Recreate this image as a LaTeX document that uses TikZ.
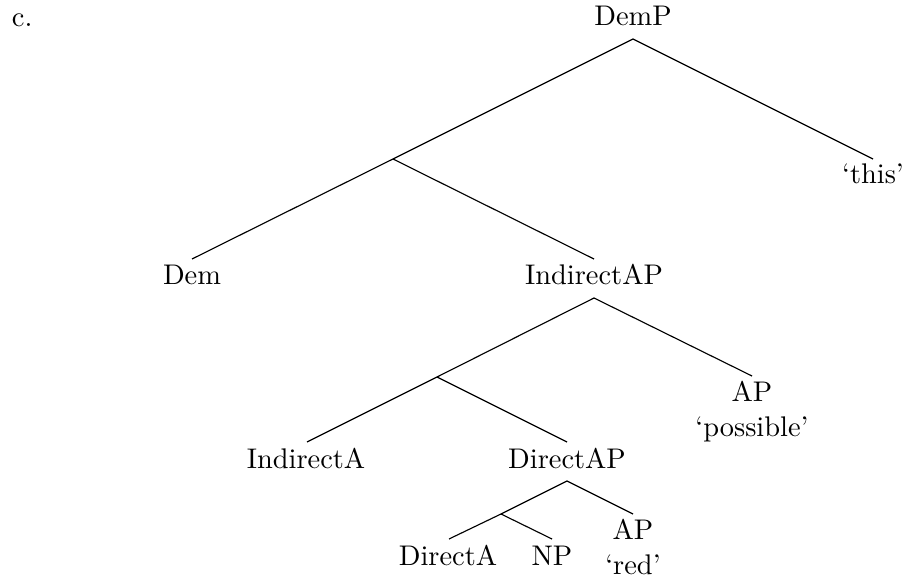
\documentclass[tikz,border=0pt]{standalone}
\begin{document}
\begin{tikzpicture}[x=0.3521pt,y=-0.3521pt,
  lbl/.style={anchor=base, inner sep=0pt, outer sep=0pt},
  branch/.style={line width=0.4pt, black}]
\useasboundingbox (0,0) rectangle (908,579);
% labels
\node[lbl, anchor=base west] (c) at (12,27) {c.};
\node[lbl] (demp) at (633,26) {DemP};
\node[lbl] (this) at (873,184) {`this'};
\node[lbl] (dem) at (192,285) {Dem};
\node[lbl] (iap) at (594,285) {IndirectAP};
\node[lbl] (ap1) at (752,402) {AP};
\node[lbl] (ap1g) at (752,436) {`possible'};
\node[lbl] (ia) at (306,468) {IndirectA};
\node[lbl] (dap) at (567,468) {DirectAP};
\node[lbl] (da) at (448,565) {DirectA};
\node[lbl] (np) at (552,565) {NP};
\node[lbl] (ap2) at (633,540) {AP};
\node[lbl] (ap2g) at (633,574) {`red'};
% attachment points
\coordinate (demp-t) at (633,39);
\coordinate (bar1) at (393,159);
\coordinate (this-t) at (873,159);
\coordinate (dem-t) at (192,259);
\coordinate (iap-in) at (594,259);
\coordinate (iap-t) at (594,298);
\coordinate (bar2) at (437,377);
\coordinate (ap1-in) at (752,376);
\coordinate (ia-in) at (307,442);
\coordinate (dap-in) at (567,442);
\coordinate (dap-t) at (567,481);
\coordinate (bar3) at (501,514);
\coordinate (ap2-in) at (633,514);
\coordinate (da-in) at (449,539);
\coordinate (np-in) at (552,539);
% branches
\draw[branch] (dem-t) -- (bar1) -- (demp-t) -- (this-t);
\draw[branch] (bar1) -- (iap-in);
\draw[branch] (ia-in) -- (bar2) -- (iap-t) -- (ap1-in);
\draw[branch] (bar2) -- (dap-in);
\draw[branch] (da-in) -- (bar3) -- (dap-t) -- (ap2-in);
\draw[branch] (bar3) -- (np-in);
\end{tikzpicture}
\end{document}
